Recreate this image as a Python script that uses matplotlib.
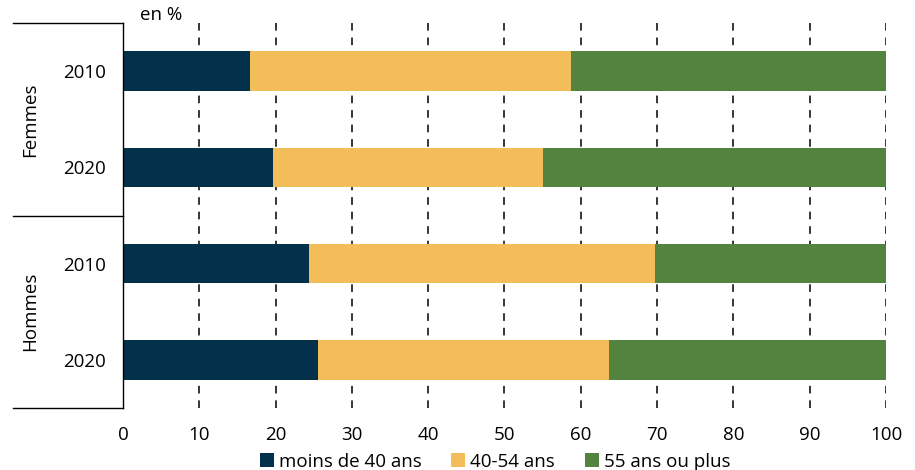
import numpy as np
import matplotlib.pyplot as plt
from matplotlib.patches import Patch

plt.rcParams['font.family'] = ['Open Sans', 'DejaVu Sans']

groups = ['Femmes', 'Hommes']
years = ['2010', '2020', '2010', '2020']
moins_40 = [16.6, 19.7, 24.4, 25.6]
de_40_54 = [42.1, 35.4, 45.3, 38.1]
plus_55 = [41.3, 44.9, 30.3, 36.3]
series = ['moins de 40 ans', '40-54 ans', '55 ans ou plus']
colors = ['#03304A', '#F3BE5A', '#548340']

fig = plt.figure(figsize=(9.15, 4.70), dpi=100)
ax = fig.add_axes([0.1344, 0.1319, 0.8339, 0.8191])

ypos = np.arange(len(years))
left = np.zeros(len(years))
for vals, c in zip([moins_40, de_40_54, plus_55], colors):
    ax.barh(ypos, vals, left=left, height=0.41, color=c, zorder=2)
    left = left + np.array(vals)

ax.set_xlim(0, 100)
ax.set_ylim(3.5, -0.5)
ax.set_xticks(np.arange(0, 101, 10))
ax.set_yticks(ypos)
ax.set_yticklabels(years)
ax.tick_params(axis='both', length=0, labelsize=13.5, colors='#000000')
ax.tick_params(axis='x', pad=13)
ax.tick_params(axis='y', pad=12)

ax.xaxis.grid(True, color='black', linestyle=(0, (5, 4.5)), linewidth=1.1)
ax.set_axisbelow(True)
for s in ['top', 'right', 'bottom']:
    ax.spines[s].set_visible(False)
ax.spines['left'].set_color('black')
ax.spines['left'].set_linewidth(1.0)

# group separators on the left
tr = ax.get_yaxis_transform()
for y in [-0.5, 1.5, 3.5]:
    ax.plot([-0.144, 0], [y, y], color='black', lw=1.0, transform=tr, clip_on=False)
for i, g in enumerate(groups):
    ax.text(-0.122, 0.5 + 2 * i, g, rotation=90, ha='center', va='center',
            fontsize=13.5, transform=tr)

fig.text(0.153, 0.968, 'en %', ha='left', va='center', fontsize=13.5)

handles = [Patch(facecolor=c, edgecolor='none') for c in colors]
fig.legend(handles, series, loc='center', bbox_to_anchor=(0.541, 0.018),
           ncol=3, frameon=False, fontsize=13.5, handlelength=0.75, handleheight=0.75,
           handletextpad=0.25, columnspacing=1.6, borderpad=0)

fig.savefig('out.png', dpi=100)
